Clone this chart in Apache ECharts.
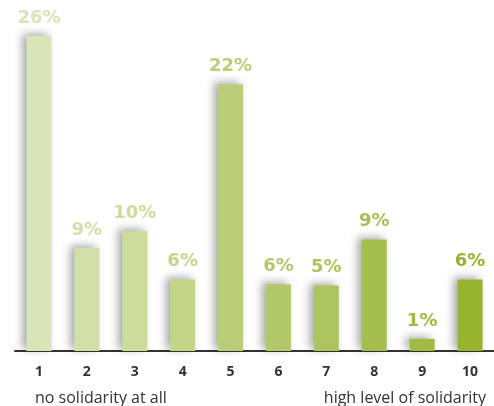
<!DOCTYPE html>
<html><head><meta charset="utf-8">
<script src="https://cdn.jsdelivr.net/npm/echarts@6/dist/echarts.min.js"></script>
<style>html,body{margin:0;padding:0;background:#fff}#c{width:494px;height:406px}</style>
</head><body><div id="c"></div>
<script>
const categories = ["1","2","3","4","5","6","7","8","9","10"];
const values = [26, 8.5, 9.9, 5.9, 22, 5.5, 5.4, 9.2, 1.0, 5.9];
const valueLabels = ["26%","9%","10%","6%","22%","6%","5%","9%","1%","6%"];
const colors = ["#d9e4b9","#d3dfa9","#cddb9b","#c4d588","#bccd7a","#b3c76b","#adc35f","#a6be4f","#a0ba42","#98b32f"];
const scaleNotes = ["no solidarity at all","high level of solidarity"];

const chart = echarts.init(document.getElementById('c'));
chart.setOption({
  animation: false,
  grid: {left: 15, top: 0, width: 484.4, bottom: 55, containLabel: false},
  xAxis: {
    type: 'category', data: categories, boundaryGap: true,
    axisLine: {show: true, lineStyle: {color: '#333', width: 2}},
    axisTick: {show: false},
    axisLabel: {color: '#333', fontSize: 14, fontWeight: 'bold', fontFamily: 'Open Sans', margin: 14}
  },
  yAxis: {type: 'value', min: 0, max: 28.96, show: false, splitLine: {show: false}},
  series: [{
    type: 'bar', barWidth: 25,
    data: values.map((v, i) => ({
      value: v,
      itemStyle: {color: colors[i], shadowColor: 'rgba(0,0,0,0.35)', shadowBlur: 9, shadowOffsetX: -4, shadowOffsetY: -2},
      label: {color: colors[i]}
    })),
    label: {
      show: true, position: 'top', distance: 9,
      formatter: p => valueLabels[p.dataIndex],
      fontSize: 18, fontWeight: 'bold', fontFamily: 'DejaVu Sans'
    }
  }],
  graphic: [
    {type: 'text', left: 35, top: 390, style: {text: scaleNotes[0], fill: '#333', fontSize: 16, fontFamily: 'Open Sans'}},
    {type: 'text', right: 8, top: 390, style: {text: scaleNotes[1], fill: '#333', fontSize: 16, fontFamily: 'Open Sans'}}
  ]
});
</script></body></html>
